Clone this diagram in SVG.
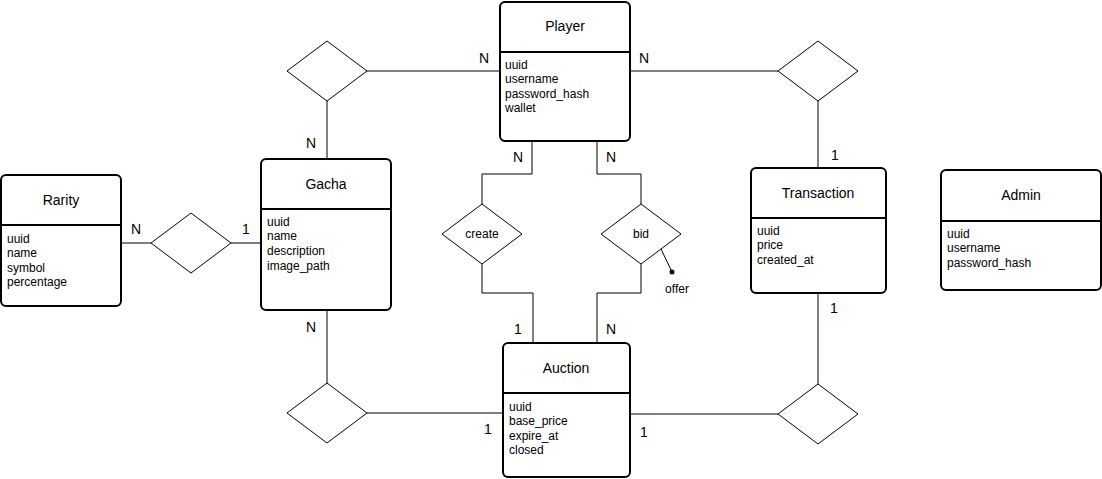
<svg xmlns="http://www.w3.org/2000/svg" width="1102" height="479" viewBox="0 0 1102 479">
<style>
.ent{fill:#fff;stroke:#000;stroke-width:2}
.div{stroke:#000;stroke-width:2}
.dia{fill:#fff;stroke:#000;stroke-width:1}
.ln{fill:none;stroke:#000;stroke-width:1}
.t{font-family:"Liberation Sans",Arial,sans-serif;font-size:14px;fill:#000;text-anchor:middle}
.a{font-family:"Liberation Sans",Arial,sans-serif;font-size:12px;fill:#000}
.c{font-family:"Liberation Sans",Arial,sans-serif;font-size:14px;fill:#000;text-anchor:middle}
.d{font-family:"Liberation Sans",Arial,sans-serif;font-size:12px;fill:#000;text-anchor:middle}
</style>
<rect width="1102" height="479" fill="#fff"/>
<g id="connectors">
<path class="ln" d="M500 71H367"/>
<path class="ln" d="M327 101V159"/>
<path class="ln" d="M630 71H778"/>
<path class="ln" d="M818 101V168"/>
<path class="ln" d="M121 243H151"/>
<path class="ln" d="M231 243H261"/>
<path class="ln" d="M532 141V174H482V204"/>
<path class="ln" d="M482 264V293H533V343"/>
<path class="ln" d="M597 141V174H641V204"/>
<path class="ln" d="M641 264V293H597V343"/>
<path class="ln" d="M661 249L672 272"/>
<circle cx="672" cy="272" r="2.5" fill="#000"/>
<path class="ln" d="M327 310V383"/>
<path class="ln" d="M367 413H503"/>
<path class="ln" d="M630 414H778"/>
<path class="ln" d="M818 293V384"/>
<text class="c" x="484" y="63">N</text>
<text class="c" x="311" y="148">N</text>
<text class="c" x="644" y="63">N</text>
<text class="c" x="835" y="160">1</text>
<text class="c" x="136" y="234">N</text>
<text class="c" x="246" y="234">1</text>
<text class="c" x="518" y="162">N</text>
<text class="c" x="518" y="334">1</text>
<text class="c" x="611" y="162">N</text>
<text class="c" x="611" y="334">N</text>
<text class="d" x="677" y="293">offer</text>
<text class="c" x="311" y="332">N</text>
<text class="c" x="488" y="434">1</text>
<text class="c" x="644" y="437">1</text>
<text class="c" x="834" y="313">1</text>
</g>
<g id="rel-player-gacha"><polygon class="dia" points="327,41 367,71 327,101 287,71"/></g>
<g id="rel-player-transaction"><polygon class="dia" points="818,41 858,71 818,101 778,71"/></g>
<g id="rel-rarity-gacha"><polygon class="dia" points="191,213 231,243 191,273 151,243"/></g>
<g id="rel-create"><polygon class="dia" points="482,204 522,234 482,264 442,234"/><text class="d" x="482" y="238">create</text></g>
<g id="rel-bid"><polygon class="dia" points="641,204 681,234 641,264 601,234"/><text class="d" x="641" y="238">bid</text></g>
<g id="rel-gacha-auction"><polygon class="dia" points="327,383 367,413 327,443 287,413"/></g>
<g id="rel-auction-transaction"><polygon class="dia" points="818,384 858,414 818,444 778,414"/></g>
<g id="player">
<rect class="ent" x="500" y="2" width="130" height="139" rx="5"/>
<line class="div" x1="500" y1="52" x2="630" y2="52"/>
<text class="t" x="565" y="31">Player</text>
<text class="a" x="505" y="69">uuid</text>
<text class="a" x="505" y="83">username</text>
<text class="a" x="505" y="98">password_hash</text>
<text class="a" x="505" y="112">wallet</text>
</g>
<g id="rarity">
<rect class="ent" x="1" y="175" width="120" height="131" rx="5"/>
<line class="div" x1="1" y1="225" x2="121" y2="225"/>
<text class="t" x="61" y="205">Rarity</text>
<text class="a" x="7" y="243">uuid</text>
<text class="a" x="7" y="257">name</text>
<text class="a" x="7" y="272">symbol</text>
<text class="a" x="7" y="286">percentage</text>
</g>
<g id="gacha">
<rect class="ent" x="261" y="159" width="130" height="151" rx="5"/>
<line class="div" x1="261" y1="209" x2="391" y2="209"/>
<text class="t" x="326" y="189">Gacha</text>
<text class="a" x="267" y="226">uuid</text>
<text class="a" x="267" y="240">name</text>
<text class="a" x="267" y="255">description</text>
<text class="a" x="267" y="270">image_path</text>
</g>
<g id="transaction">
<rect class="ent" x="751" y="168" width="135" height="125" rx="5"/>
<line class="div" x1="751" y1="218" x2="886" y2="218"/>
<text class="t" x="818" y="198">Transaction</text>
<text class="a" x="757" y="235">uuid</text>
<text class="a" x="757" y="249">price</text>
<text class="a" x="757" y="264">created_at</text>
</g>
<g id="admin">
<rect class="ent" x="941" y="170" width="160" height="120" rx="5"/>
<line class="div" x1="941" y1="221" x2="1101" y2="221"/>
<text class="t" x="1021" y="200">Admin</text>
<text class="a" x="947" y="238">uuid</text>
<text class="a" x="947" y="252">username</text>
<text class="a" x="947" y="267">password_hash</text>
</g>
<g id="auction">
<rect class="ent" x="503" y="343" width="127" height="134" rx="5"/>
<line class="div" x1="503" y1="393" x2="630" y2="393"/>
<text class="t" x="566" y="373">Auction</text>
<text class="a" x="509" y="411">uuid</text>
<text class="a" x="509" y="425">base_price</text>
<text class="a" x="509" y="440">expire_at</text>
<text class="a" x="509" y="454">closed</text>
</g>
</svg>
